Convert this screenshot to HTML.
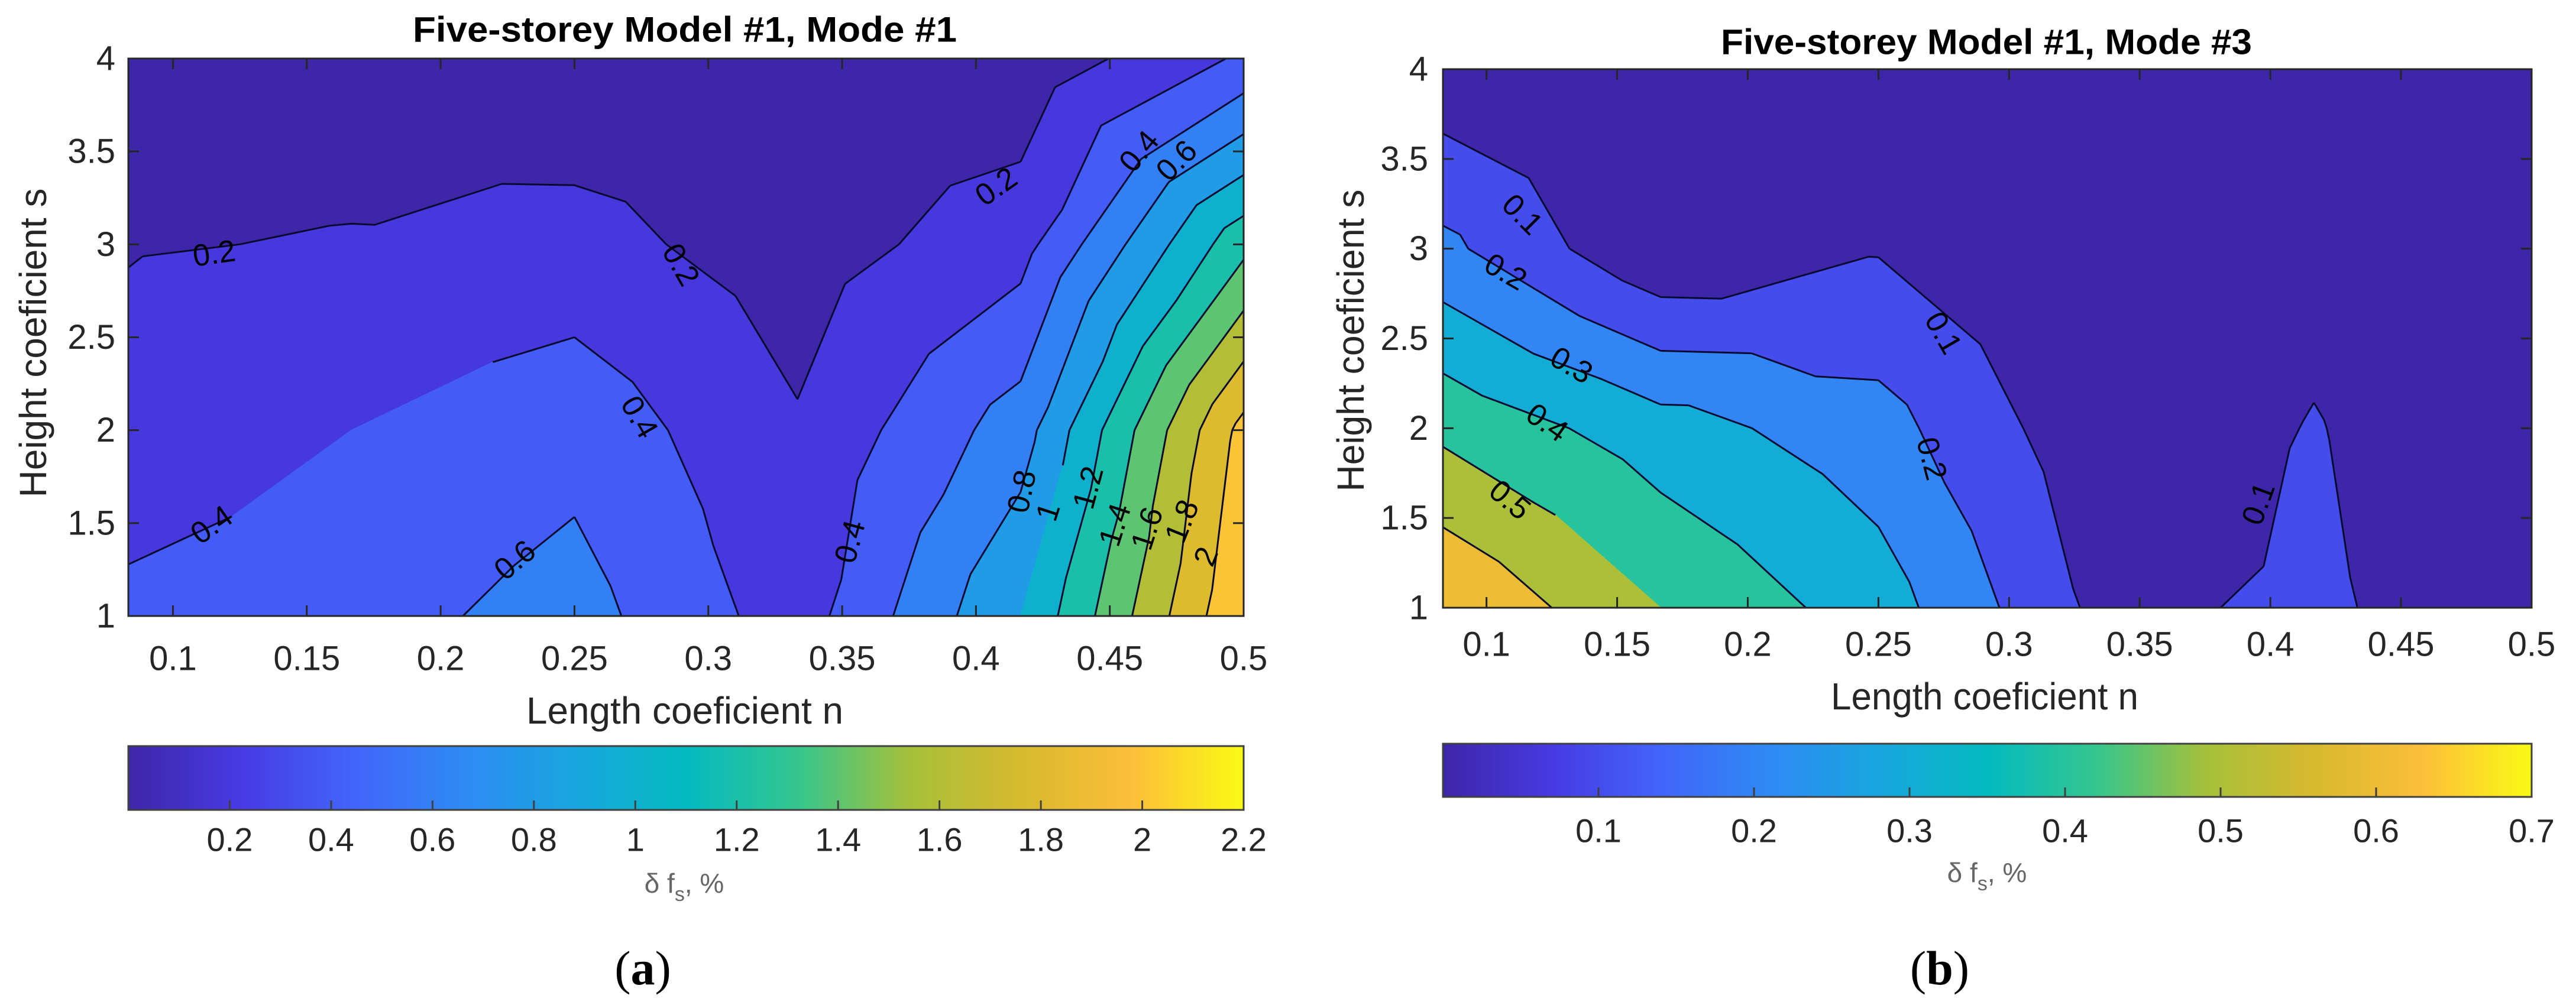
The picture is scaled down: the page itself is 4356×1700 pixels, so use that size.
<!DOCTYPE html>
<html><head><meta charset="utf-8"><style>
html,body{margin:0;padding:0;background:#fff;}
svg{display:block;font-family:"Liberation Sans",Arial,sans-serif;}
</style></head><body>
<svg id="fig" width="4356" height="1700" viewBox="0 0 4356 1700" xmlns="http://www.w3.org/2000/svg">
<rect x="0" y="0" width="4356" height="1700" fill="#fff"/>
<g id="panelA"></g>
<g id="panelB"></g>
</svg>
<script>
// ---- data ----
const nGrid = [1/12, 2/12, 3/12, 4/12, 5/12, 6/12];
const sGrid = [1, 2, 3, 4];
// Mode #1 values, rows s=1..4
const zA_s1 = [0.45, 0.52, 0.68, 0.30, 1.00, 2.20];
const zA_s2 = [0.27, 0.40, 0.53, 0.22, 0.70, 2.07];
const zA_s3 = [0.19, 0.21, 0.27, 0.10, 0.32, 1.34];
const zA_s4 = [0.12, 0.12, 0.05, 0.05, 0.05, 0.43];
// Mode #3 values
const zB_s1 = [0.70, 0.50, 0.35, 0.08, 0.115, 0.04];
const zB_s2 = [0.477, 0.344, 0.239, 0.03, 0.105, 0.02];
const zB_s3 = [0.225, 0.01, 0.093, 0.0, 0.07, 0.01];
const zB_s4 = [0.03, 0.0, 0.0, 0.0, 0.02, 0.0];
const levelsA = [0.2,0.4,0.6,0.8,1.0,1.2,1.4,1.6,1.8,2.0];
const levelsB = [0.1,0.2,0.3,0.4,0.5,0.6];
const xTicks = [0.1,0.15,0.2,0.25,0.3,0.35,0.4,0.45,0.5];
const xTickLabels = ["0.1","0.15","0.2","0.25","0.3","0.35","0.4","0.45","0.5"];
const yTicks = [1,1.5,2,2.5,3,3.5,4];
const yTickLabels = ["1","1.5","2","2.5","3","3.5","4"];
const cbTicksA = [0.2,0.4,0.6,0.8,1,1.2,1.4,1.6,1.8,2,2.2];
const cbLabelsA = ["0.2","0.4","0.6","0.8","1","1.2","1.4","1.6","1.8","2","2.2"];
const cbTicksB = [0.1,0.2,0.3,0.4,0.5,0.6,0.7];
const cbLabelsB = ["0.1","0.2","0.3","0.4","0.5","0.6","0.7"];
const labelsA_text = ["0.2","0.2","0.2","0.4","0.4","0.6","0.4","0.4","0.6","0.8","1","1.2","1.4","1.6","1.8","2"];
const labelsA_n = [0.1154,0.2897,0.4076,0.1145,0.2742,0.2278,0.353,0.461,0.475,0.4172,0.427,0.442,0.452,0.464,0.477,0.486];
const labelsA_s = [2.95,2.89,3.31,1.49,2.07,1.30,1.40,3.50,3.45,1.67,1.56,1.69,1.49,1.47,1.51,1.32];
const labelsA_rot = [-8,60,-35,-35,60,-40,-75,-50,-45,-78,-72,-75,-72,-72,-68,-68];
const labelsB_text = ["0.1","0.2","0.3","0.4","0.5","0.1","0.2","0.1"];
const labelsB_n = [0.1137,0.1073,0.1325,0.1232,0.1089,0.2748,0.2703,0.3955];
const labelsB_s = [3.19,2.87,2.35,2.03,1.60,2.53,1.83,1.58];
const labelsB_rot = [45,30,30,35,40,60,75,-70];

const cmapStops = [[62,38,168],[71,58,226],[66,100,250],[46,138,244],[24,166,222],[3,186,192],[52,198,142],[165,192,58],[215,185,45],[252,190,58],[249,250,20]];
function cmap(t){t=Math.max(0,Math.min(1,t));const f=t*(cmapStops.length-1);const i=Math.min(Math.floor(f),cmapStops.length-2);const u=f-i;const a=cmapStops[i],b=cmapStops[i+1];return `rgb(${Math.round(a[0]+(b[0]-a[0])*u)},${Math.round(a[1]+(b[1]-a[1])*u)},${Math.round(a[2]+(b[2]-a[2])*u)})`;}

const NS="http://www.w3.org/2000/svg";
function mk(tag,attrs,parent){const e=document.createElementNS(NS,tag);for(const k in attrs)e.setAttribute(k,attrs[k]);parent.appendChild(e);return e;}

function clip(poly,L,keepAbove){const out=[];for(let i=0;i<poly.length;i++){const a=poly[i],b=poly[(i+1)%poly.length];const ina=keepAbove?a[2]>=L:a[2]<=L;const inb=keepAbove?b[2]>=L:b[2]<=L;if(ina)out.push(a);if(ina!==inb){const t=(L-a[2])/(b[2]-a[2]);out.push([a[0]+(b[0]-a[0])*t,a[1]+(b[1]-a[1])*t,L]);}}return out;}

function drawPanel(g,cfg){
  const {x0,x1,y0,y1}=cfg;
  const nmin=1/12,nmax=0.5;
  const sx=n=>x0+(n-nmin)/(nmax-nmin)*(x1-x0);
  const sy=s=>y1-(s-1)/3*(y1-y0);
  const Z=cfg.z;
  const lv=cfg.levels;const bounds=[-1e9].concat(lv).concat([1e9]);
  const tris=[];
  for(let j=0;j<sGrid.length-1;j++)for(let i=0;i<nGrid.length-1;i++){
    const p00=[sx(nGrid[i]),sy(sGrid[j]),Z[j][i]],p10=[sx(nGrid[i+1]),sy(sGrid[j]),Z[j][i+1]],p11=[sx(nGrid[i+1]),sy(sGrid[j+1]),Z[j+1][i+1]],p01=[sx(nGrid[i]),sy(sGrid[j+1]),Z[j+1][i]];
    const c=[(p00[0]+p10[0])/2,(p00[1]+p01[1])/2,(p00[2]+p10[2]+p11[2]+p01[2])/4];
    tris.push([p00,p10,c],[p10,p11,c],[p11,p01,c],[p01,p00,c]);
  }
  const fills=mk('g',{},g);
  
  
  for(let b=0;b<bounds.length-1;b++){
    const lo=bounds[b],hi=bounds[b+1];
    const col=cmap((b===0?0:lo)/cfg.cmax);
    let d='';
    tris.forEach(t=>{let p=clip(t,lo,true);if(p.length<3)return;p=clip(p,hi,false);if(p.length<3)return;d+='M'+p.map(q=>q[0].toFixed(1)+','+q[1].toFixed(1)).join('L')+'Z';});
    if(d){const e=mk('path',{d:d,fill:col,stroke:col,'stroke-width':1.5,'stroke-linejoin':'round'},fills);
      
      }
  }
  const lines=mk('g',{},g);
  
  
  lv.forEach(L=>{let d='';tris.forEach(t=>{const pts=[];for(let k=0;k<3;k++){const a=t[k],b=t[(k+1)%3];if((a[2]-L)*(b[2]-L)<0){const u=(L-a[2])/(b[2]-a[2]);pts.push([a[0]+(b[0]-a[0])*u,a[1]+(b[1]-a[1])*u]);}}if(pts.length===2)d+='M'+pts[0][0].toFixed(1)+','+pts[0][1].toFixed(1)+'L'+pts[1][0].toFixed(1)+','+pts[1][1].toFixed(1);});
    if(d){const e=mk('path',{d:d,fill:'none',stroke:'#0a0a30','stroke-width':3},lines);
      
      }});
  cfg.lt.forEach((t,k)=>{const x=sx(cfg.ln[k]),y=sy(cfg.ls[k]);
    const e=mk('text',{x:x,y:y,'font-size':52,'text-anchor':'middle','dominant-baseline':'central',fill:'#000',transform:`rotate(${cfg.lr[k]} ${x} ${y})`},g);
    e.textContent=t;
    
    });
  const box=mk('rect',{x:x0,y:y0,width:x1-x0,height:y1-y0,fill:'none',stroke:'#262626','stroke-width':3},g);
  
  
  xTicks.forEach((v,k)=>{const x=sx(v);
    mk('line',{x1:x,y1:y1,x2:x,y2:y1-18,stroke:'#262626','stroke-width':3},g);
    mk('line',{x1:x,y1:y0,x2:x,y2:y0+18,stroke:'#262626','stroke-width':3},g);
    const e=mk('text',{x:x,y:cfg.xtY,'font-size':58,'text-anchor':'middle','dominant-baseline':'central',fill:'#262626'},g);
    e.textContent=xTickLabels[k];
    
    });
  yTicks.forEach((v,k)=>{const y=sy(v);
    mk('line',{x1:x0,y1:y,x2:x0+18,y2:y,stroke:'#262626','stroke-width':3},g);
    mk('line',{x1:x1,y1:y,x2:x1-18,y2:y,stroke:'#262626','stroke-width':3},g);
    const e=mk('text',{x:cfg.ytX,y:y,'font-size':58,'text-anchor':'end','dominant-baseline':'central',fill:'#262626'},g);
    e.textContent=yTickLabels[k];
    
    });
  const gid='grad'+cfg.id;
  const defs=mk('defs',{},g);const lg=mk('linearGradient',{id:gid,x1:0,y1:0,x2:1,y2:0},defs);
  for(let i=0;i<=20;i++)mk('stop',{offset:(i/20),'stop-color':cmap(i/20)},lg);
  const cb=mk('rect',{x:x0,y:cfg.cbY0,width:x1-x0,height:cfg.cbY1-cfg.cbY0,fill:`url(#${gid})`,stroke:'#404040','stroke-width':3},g);
  
  
  cfg.cbT.forEach((v,k)=>{const x=x0+v/cfg.cmax*(x1-x0);
    mk('line',{x1:x,y1:cfg.cbY1,x2:x,y2:cfg.cbY1-16,stroke:'#404040','stroke-width':3},g);
    const e=mk('text',{x:x,y:cfg.cbLY,'font-size':56,'text-anchor':'middle','dominant-baseline':'central',fill:'#262626'},g);
    e.textContent=cfg.cbL[k];
    
    });
}

function addText(g,name,attrs,html){const e=mk('text',attrs,g);e.innerHTML=html;return e;}

const gA=document.getElementById('panelA'),gB=document.getElementById('panelB');
drawPanel(gA,{id:'A',x0:217,x1:2103,y0:99,y1:1042,z:[zA_s1,zA_s2,zA_s3,zA_s4],levels:levelsA,cmax:2.2,xtY:1114,ytX:195,cbY0:1262,cbY1:1370,cbLY:1420,cbT:cbTicksA,cbL:cbLabelsA,lt:labelsA_text,ln:labelsA_n,ls:labelsA_s,lr:labelsA_rot});
drawPanel(gB,{id:'B',x0:2440,x1:4281,y0:117,y1:1028,z:[zB_s1,zB_s2,zB_s3,zB_s4],levels:levelsB,cmax:0.7,xtY:1090,ytX:2415,cbY0:1258,cbY1:1348,cbLY:1405,cbT:cbTicksB,cbL:cbLabelsB,lt:labelsB_text,ln:labelsB_n,ls:labelsB_s,lr:labelsB_rot});

addText(gA,'chart-title',{x:1158,y:50,'font-size':60,'font-weight':'bold','text-anchor':'middle','dominant-baseline':'central',textLength:920,lengthAdjust:'spacingAndGlyphs',fill:'#000'},'Five-storey Model #1, Mode #1');
addText(gB,'chart-title',{x:3359,y:71,'font-size':60,'font-weight':'bold','text-anchor':'middle','dominant-baseline':'central',textLength:898,lengthAdjust:'spacingAndGlyphs',fill:'#000'},'Five-storey Model #1, Mode #3');
addText(gA,'x-axis-title',{x:1158,y:1202,'font-size':64,'text-anchor':'middle','dominant-baseline':'central',textLength:536,lengthAdjust:'spacingAndGlyphs',fill:'#262626'},'Length coeficient n');
addText(gB,'x-axis-title',{x:3356,y:1178,'font-size':64,'text-anchor':'middle','dominant-baseline':'central',textLength:520,lengthAdjust:'spacingAndGlyphs',fill:'#262626'},'Length coeficient n');
addText(gA,'y-axis-title',{x:56,y:580,'font-size':64,'text-anchor':'middle','dominant-baseline':'central',textLength:523,lengthAdjust:'spacingAndGlyphs',fill:'#262626',transform:'rotate(-90 56 580)'},'Height coeficient s');
addText(gB,'y-axis-title',{x:2284,y:576,'font-size':64,'text-anchor':'middle','dominant-baseline':'central',textLength:511,lengthAdjust:'spacingAndGlyphs',fill:'#262626',transform:'rotate(-90 2284 576)'},'Height coeficient s');
addText(gA,'colorbar-title',{x:1157,y:1510,'font-size':46,'text-anchor':'middle',fill:'#666'},'δ f<tspan font-size="34" dy="14">s</tspan><tspan dy="-14">, %</tspan>');
addText(gB,'colorbar-title',{x:3360,y:1492,'font-size':46,'text-anchor':'middle',fill:'#666'},'δ f<tspan font-size="34" dy="14">s</tspan><tspan dy="-14">, %</tspan>');
addText(gA,'panel-label-a',{x:1087,y:1665,'font-size':82,'text-anchor':'middle','font-family':'Liberation Serif, serif',fill:'#000'},'(<tspan font-weight="bold">a</tspan>)');
addText(gB,'panel-label-b',{x:3280,y:1665,'font-size':82,'text-anchor':'middle','font-family':'Liberation Serif, serif',fill:'#000'},'(<tspan font-weight="bold">b</tspan>)');
</script>
</body></html>
